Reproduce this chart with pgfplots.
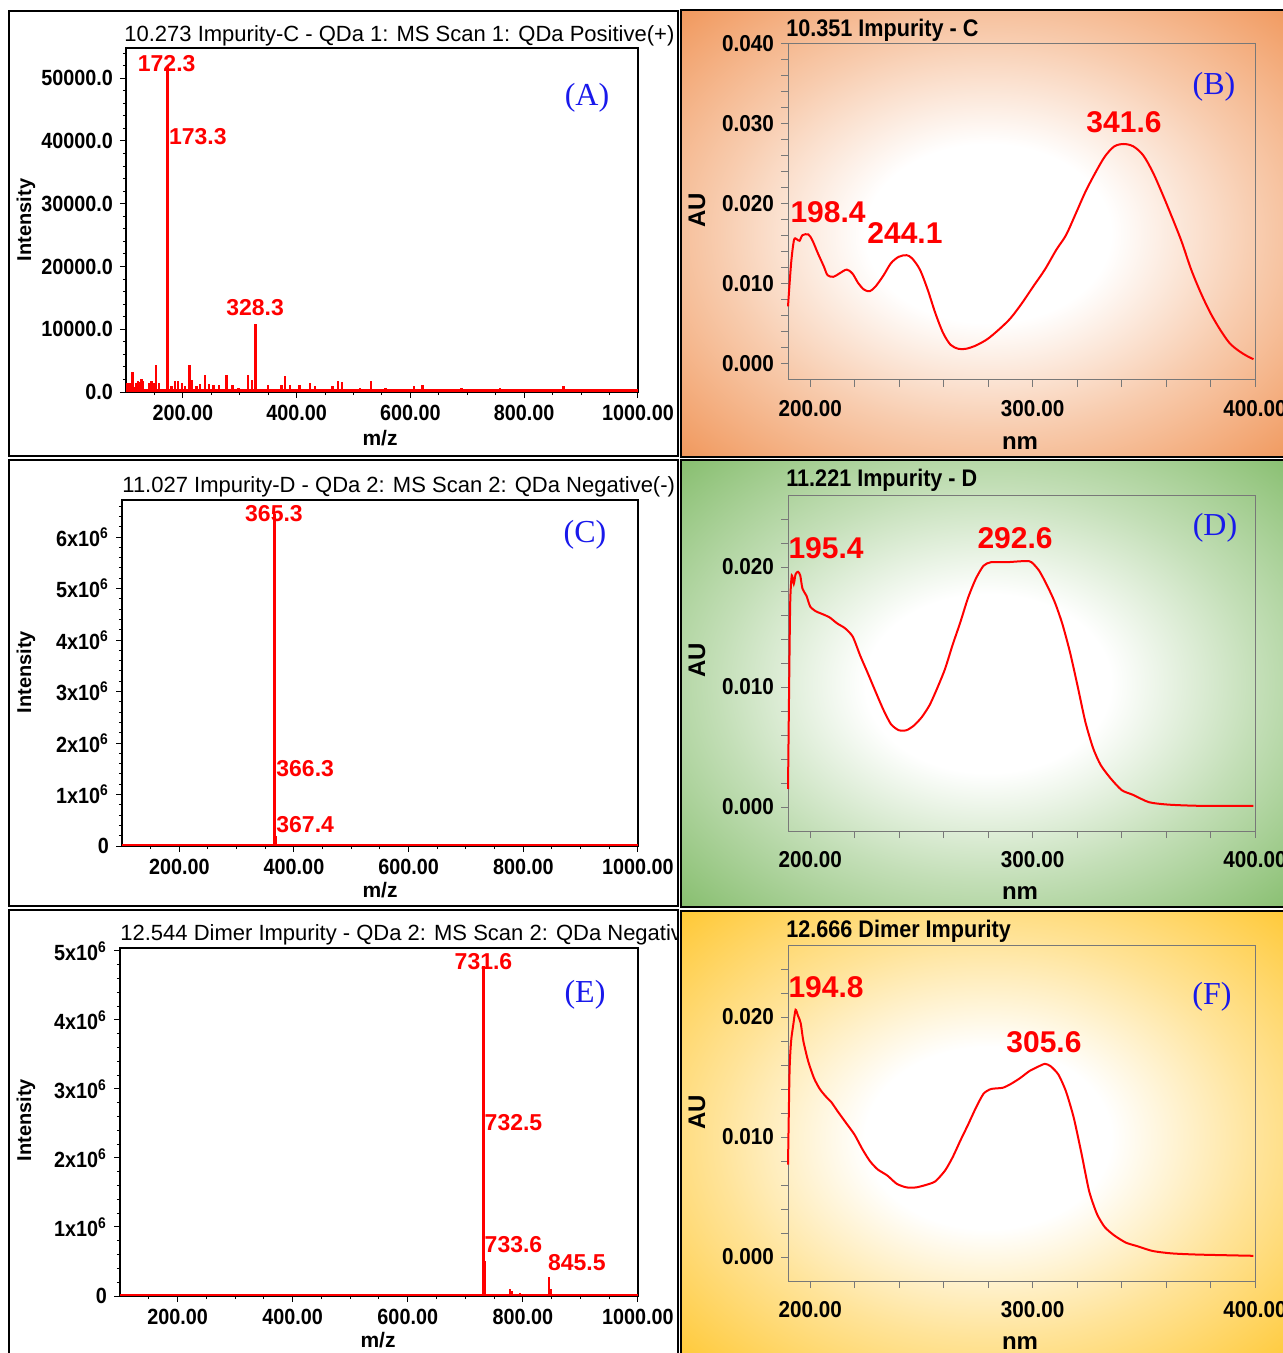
\documentclass[border=0pt]{standalone}
\usepackage{pgfplots}
\pgfplotsset{compat=1.18}
\usepackage{fontspec}
\setmainfont{Liberation Sans}
\newfontfamily\cond[FakeStretch=0.9]{Liberation Sans}
\newfontfamily\serifA{Liberation Serif}
\definecolor{cB}{RGB}{236,120,42}
\definecolor{cD}{RGB}{98,170,66}
\definecolor{cF}{RGB}{255,186,0}
\definecolor{lab}{RGB}{25,25,235}
\definecolor{axg}{RGB}{120,120,120}
\pgfdeclareradialshading{shB}{\pgfpoint{0bp}{0bp}}{color(0bp)=(white); color(10bp)=(white); color(22bp)=(cB!38!white); color(35bp)=(cB!75!white); color(50bp)=(cB)}
\pgfdeclareradialshading{shD}{\pgfpoint{0bp}{0bp}}{color(0bp)=(white); color(10bp)=(white); color(22bp)=(cD!38!white); color(35bp)=(cD!75!white); color(50bp)=(cD)}
\pgfdeclareradialshading{shF}{\pgfpoint{0bp}{0bp}}{color(0bp)=(white); color(10bp)=(white); color(22bp)=(cF!40!white); color(35bp)=(cF!78!white); color(50bp)=(cF)}
\tikzset{
  pl/.style={font=\bfseries\fontsize{11.5}{13}\selectfont, text=red, inner sep=0pt},
  ul/.style={font=\bfseries\fontsize{15}{17}\selectfont, text=red, inner sep=0pt},
}
\pgfplotsset{
  ms/.style={scale only axis, anchor=north west, clip=false,
    xmin=100, xmax=1000, ymin=0,
    axis line style={black, line width=0.6pt},
    tick pos=left, tick align=outside,
    tick style={black, line width=0.5pt},
    major tick length=3pt, minor tick length=1.6pt,
    xtick={200,400,600,800,1000},
    xticklabels={200.00,400.00,600.00,800.00,1000.00},
    minor xtick={150,250,300,350,450,500,550,650,700,750,850,900,950},
    scaled ticks=false,
    ticklabel style={font=\cond\bfseries\fontsize{11}{13}\selectfont},
  },
  uv/.style={scale only axis, anchor=north west, clip=false,
    width=233.5pt, height=168pt,
    xmin=190, xmax=400,
    axis line style={axg, line width=0.5pt},
    tick pos=left, tick align=outside,
    tick style={axg, line width=0.5pt},
    major tick length=3.5pt, minor tick length=3.5pt,
    xtick={200,300,400}, xticklabels={200.00,300.00,400.00},
    minor xtick={220,240,260,280,320,340,360,380},
    scaled ticks=false,
    ticklabel style={font=\cond\bfseries\fontsize{11.5}{13}\selectfont},
    xticklabel style={yshift=-3pt},
  },
  stick/.style={red, ycomb, line width=1.2pt},
}
\begin{document}
\begin{tikzpicture}
\path[use as bounding box] (0pt,0pt) rectangle (641.5pt,-676.5pt);
\clip (0pt,0pt) rectangle (641.5pt,-676.5pt);
\begin{scope}[x=0.5pt,y=-0.5pt]
% backgrounds and frames
\shade[shading=shB] (681,10) rectangle (1295,457);
\shade[shading=shD] (681,460) rectangle (1295,907);
\shade[shading=shF] (681,911) rectangle (1295,1365);
\draw[line width=1.1pt] (681,10) rectangle (1295,457);
\draw[line width=1.1pt] (681,460) rectangle (1295,907);
\draw[line width=1.1pt] (681,911) rectangle (1295,1365);
\draw[line width=1.1pt] (9,11) rectangle (678,456);
\draw[line width=1.1pt] (9,460) rectangle (678,906);
\draw[line width=1.1pt] (9,910) rectangle (678,1365);
\end{scope}

% ================= Panel A =================
\begin{axis}[ms, at={(63pt,-24pt)}, width=256pt, height=172pt, ymax=54800,
  ytick={0,10000,20000,30000,40000,50000},
  yticklabels={0.0,10000.0,20000.0,30000.0,40000.0,50000.0},
  minor ytick={2000,4000,6000,8000,12000,14000,16000,18000,22000,24000,26000,28000,32000,34000,36000,38000,42000,44000,46000,48000,52000,54000}]
\addplot[red, line width=1.3pt] coordinates {(100,260) (1000,260)};
\addplot[stick] coordinates {
(102,1400) (105,1500) (109,1430) (111.6,3180) (114,800) (118,1500) (121,1800) (124,1600) (127,2000) (130,1700)
(140,1500) (145,1800) (149,1400) (153,4240) (158,1430) (180,900) (186,1750) (191,1750) (198,1430) (204,1000)
(211.8,4240) (215,1960) (224,900) (230,1300) (239,2750) (246,1300) (254,1150) (264,1150) (277,2750) (287,1150)
(298,640) (305,530) (314.5,2750) (321,1960) (350,1150) (373,1150) (380,2500) (388,1150) (405,1150) (423,1430)
(432,900) (463,900) (473,1700) (480,1590) (511,640) (531,1700) (537,370) (556,640) (570,370) (606,900)
(621,1150) (632,370) (690,640) (757,640) (869,900) (985,370)};
\addplot[stick, line width=1.4pt] coordinates {(172.3,52000) (173.3,38400) (328.3,10900)};
\node[pl, anchor=center] at (axis cs:171.5,52300) {172.3};
\node[pl, anchor=west] at (axis cs:175,40760) {173.3};
\node[pl, anchor=center] at (axis cs:327,13400) {328.3};
\end{axis}

% ================= Panel C =================
\begin{axis}[ms, at={(61pt,-250pt)}, width=258pt, height=173pt, ymax=6720000,
  ytick={0,1000000,2000000,3000000,4000000,5000000,6000000},
  yticklabels={0,{1x10\textsuperscript{6}},{2x10\textsuperscript{6}},{3x10\textsuperscript{6}},{4x10\textsuperscript{6}},{5x10\textsuperscript{6}},{6x10\textsuperscript{6}}},
  minor ytick={200000,400000,600000,800000,1200000,1400000,1600000,1800000,2200000,2400000,2600000,2800000,3200000,3400000,3600000,3800000,4200000,4400000,4600000,4800000,5200000,5400000,5600000,5800000,6200000,6400000,6600000}]
\addplot[red, line width=1.1pt] coordinates {(100,15000) (1000,15000)};
\addplot[stick] coordinates {(107,40000) (480,40000) (838,40000)};
\addplot[stick, line width=1.4pt] coordinates {(365.3,6440000) (366.3,1300000) (367.4,200000)};
\node[pl, anchor=center] at (axis cs:365.1,6450000) {365.3};
\node[pl, anchor=west] at (axis cs:368.6,1510000) {366.3};
\node[pl, anchor=west] at (axis cs:368.6,410000) {367.4};
\end{axis}

% ================= Panel E =================
\begin{axis}[ms, at={(60pt,-474pt)}, width=259pt, height=174pt, ymax=5040000,
  ytick={0,1000000,2000000,3000000,4000000,5000000},
  yticklabels={0,{1x10\textsuperscript{6}},{2x10\textsuperscript{6}},{3x10\textsuperscript{6}},{4x10\textsuperscript{6}},{5x10\textsuperscript{6}}},
  minor ytick={200000,400000,600000,800000,1200000,1400000,1600000,1800000,2200000,2400000,2600000,2800000,3200000,3400000,3600000,3800000,4200000,4400000,4600000,4800000}]
\addplot[red, line width=1.1pt] coordinates {(100,15000) (1000,15000)};
\addplot[stick] coordinates {(778,100000) (781,70000) (795,40000) (845.5,270000) (848,100000)};
\addplot[stick, line width=1.4pt] coordinates {(731.6,4780000) (732.5,2400000) (733.6,510000)};
\node[pl, anchor=center] at (axis cs:731.6,4840000) {731.6};
\node[pl, anchor=west] at (axis cs:733,2510000) {732.5};
\node[pl, anchor=west] at (axis cs:733,740000) {733.6};
\node[pl, anchor=west] at (axis cs:843,490000) {845.5};
\end{axis}

% ================= Panel B =================
\begin{axis}[uv, at={(394pt,-22pt)}, ymin=-0.002, ymax=0.040,
  ytick={0,0.01,0.02,0.03,0.04}, yticklabels={0.000,0.010,0.020,0.030,0.040},
  minor ytick={0.002,0.004,0.006,0.008,0.012,0.014,0.016,0.018,0.022,0.024,0.026,0.028,0.032,0.034,0.036,0.038}]
\addplot[red, line width=1pt, smooth] coordinates {
(190,0.0072) (191.4,0.0126) (192.7,0.0155) (193.9,0.0156) (195.2,0.0154) (196.5,0.0161) (199.1,0.0162) (200.9,0.0155)
(203.5,0.0138) (206.1,0.0122) (207.8,0.0111) (210.4,0.0109) (213,0.0113) (216.4,0.0118) (219,0.0113) (221.6,0.0101)
(224.2,0.0093) (226.8,0.0091) (229.4,0.0097) (233,0.0111) (236.3,0.0126) (239.8,0.0134) (243.3,0.0136) (245.8,0.0132)
(249.3,0.0118) (252.8,0.0093) (256.2,0.0064) (259.7,0.0039) (263.1,0.0024) (266.6,0.0019) (270,0.0019) (274.4,0.0023)
(279.6,0.0031) (284.8,0.0043) (290,0.0057) (295.2,0.0076) (300.3,0.0097) (305.5,0.0118) (310.7,0.0143) (315,0.0161)
(319.4,0.0188) (323.7,0.0215) (328,0.0238) (332.4,0.0259) (336.7,0.0272) (341,0.0275) (345.3,0.0272) (349.7,0.0261)
(354,0.0240) (358.3,0.0213) (362.6,0.0184) (367,0.0153) (371.3,0.0118) (375.6,0.0089) (379.9,0.0064) (384.3,0.0043)
(388.6,0.0026) (392.9,0.0016) (396.4,0.0010) (399.3,0.0006)};
\node[ul] at (axis cs:208,0.0190) {198.4};
\node[ul] at (axis cs:242.6,0.0164) {244.1};
\node[ul] at (axis cs:341.1,0.03025) {341.6};
\end{axis}

% ================= Panel D =================
\begin{axis}[uv, at={(394pt,-247.5pt)}, ymin=-0.002, ymax=0.026,
  ytick={0,0.01,0.02}, yticklabels={0.000,0.010,0.020},
  minor ytick={0.002,0.004,0.006,0.008,0.012,0.014,0.016,0.018,0.022,0.024}]
\addplot[red, line width=1pt, smooth, tension=0.4] coordinates {
(190,0.0015) (190.5,0.0099) (191,0.0171) (191.7,0.0193) (192.6,0.0186) (193.4,0.0194) (194.5,0.0196) (195.5,0.0193)
(196.5,0.0182) (198.3,0.0176) (200,0.0167) (202.6,0.0163) (205.2,0.0161) (208.7,0.0158) (212.1,0.0153) (215.6,0.0149)
(219.1,0.0142) (222.5,0.0126) (226,0.0111) (229.4,0.0096) (232.9,0.0081) (236.3,0.0069) (239.8,0.0064) (243.3,0.0064)
(246.7,0.0068) (250.2,0.0075) (253.7,0.0085) (257.1,0.0099) (260.6,0.0115) (264,0.0135) (267.5,0.0154) (270.9,0.0174)
(274.4,0.0190) (277.9,0.0201) (281.3,0.0204) (288.2,0.0204) (296.9,0.0205) (299.5,0.0204) (302.9,0.0197) (306.4,0.0185)
(309.9,0.0171) (313.3,0.0153) (316.8,0.0129) (320.2,0.0101) (323.7,0.0071) (327.2,0.0049) (330.6,0.0035) (335,0.0024)
(340.1,0.0014) (345.3,0.0010) (352.3,0.0004) (360.9,0.0002) (374.7,0.0001) (399.3,0.0001)};
\node[ul] at (axis cs:207.1,0.0216) {195.4};
\node[ul] at (axis cs:292.1,0.0224) {292.6};
\end{axis}

% ================= Panel F =================
\begin{axis}[uv, at={(394pt,-472.5pt)}, ymin=-0.002, ymax=0.026,
  ytick={0,0.01,0.02}, yticklabels={0.000,0.010,0.020},
  minor ytick={0.002,0.004,0.006,0.008,0.012,0.014,0.016,0.018,0.022,0.024}]
\addplot[red, line width=1pt, smooth, tension=0.4] coordinates {
(190,0.0077) (190.7,0.0155) (191.4,0.0180) (192.4,0.0194) (193.4,0.0206) (194.5,0.0201) (195.7,0.0195) (196.9,0.0180)
(199.1,0.0163) (201.7,0.0149) (204.3,0.0140) (206.9,0.0134) (209.5,0.0129) (212.1,0.0122) (215.6,0.0113) (219.9,0.0102)
(223.4,0.0090) (226.8,0.0080) (230.3,0.0073) (234.6,0.0068) (238.9,0.0061) (243.3,0.0058) (247.6,0.0058) (251.9,0.0060)
(256.2,0.0063) (260.6,0.0072) (264,0.0083) (267.5,0.0097) (270.9,0.0110) (274.4,0.0124) (277.9,0.0136) (281.3,0.0140)
(286.5,0.0141) (290,0.0144) (294.3,0.0149) (298.6,0.0155) (302.9,0.0159) (305.5,0.0161) (308.1,0.0159) (311.6,0.0152)
(315,0.0138) (318.5,0.0116) (322,0.0086) (325.4,0.0055) (328.9,0.0036) (332.4,0.0025) (336.7,0.0018) (341.9,0.0012)
(347.1,0.0009) (354,0.0005) (362.6,0.0003) (374.7,0.0002) (399.3,0.0001)};
\node[ul] at (axis cs:207.1,0.0225) {194.8};
\node[ul] at (axis cs:305.1,0.0179) {305.6};
\end{axis}

% ================= titles and labels =================
\begin{scope}[x=0.5pt,y=-0.5pt]
\begin{scope}
\clip (0,0) rectangle (677,1353);
\node[anchor=west, inner sep=0pt, font=\fontsize{11}{13}\selectfont] at (124,36) {10.273 Impurity-C - QDa 1: MS Scan 1: QDa Positive(+) Scan};
\node[anchor=west, inner sep=0pt, font=\fontsize{11}{13}\selectfont] at (122,487) {11.027 Impurity-D - QDa 2: MS Scan 2: QDa Negative(-)};
\node[anchor=west, inner sep=0pt, font=\fontsize{11}{13}\selectfont] at (120,935) {12.544 Dimer Impurity - QDa 2: MS Scan 2: QDa Negative(-)};
\end{scope}
\node[anchor=west, inner sep=0pt, font=\cond\bfseries\fontsize{12}{14}\selectfont] at (786,30) {10.351 Impurity - C};
\node[anchor=west, inner sep=0pt, font=\cond\bfseries\fontsize{12}{14}\selectfont] at (786,480) {11.221 Impurity - D};
\node[anchor=west, inner sep=0pt, font=\cond\bfseries\fontsize{12}{14}\selectfont] at (786,931) {12.666 Dimer Impurity};

\foreach \yy in {220,672,1120} {\node[rotate=90, font=\bfseries\fontsize{10}{12}\selectfont] at (26,\yy) {Intensity};}
\node[font=\bfseries\fontsize{10.5}{12}\selectfont] at (380,438) {m/z};
\node[font=\bfseries\fontsize{10.5}{12}\selectfont] at (380,890) {m/z};
\node[font=\bfseries\fontsize{10.5}{12}\selectfont] at (378,1340) {m/z};
\foreach \yy in {210,660,1112} {\node[rotate=90, font=\bfseries\fontsize{12}{14}\selectfont] at (697,\yy) {AU};}
\node[font=\bfseries\fontsize{12}{14}\selectfont] at (1020,443) {nm};
\node[font=\bfseries\fontsize{12}{14}\selectfont] at (1020,893) {nm};
\node[font=\bfseries\fontsize{12}{14}\selectfont] at (1020,1343) {nm};

\node[text=lab, font=\serifA\fontsize{16}{18}\selectfont] at (587,98) {(A)};
\node[text=lab, font=\serifA\fontsize{16}{18}\selectfont] at (1214,87) {(B)};
\node[text=lab, font=\serifA\fontsize{16}{18}\selectfont] at (585,535) {(C)};
\node[text=lab, font=\serifA\fontsize{16}{18}\selectfont] at (1215,528) {(D)};
\node[text=lab, font=\serifA\fontsize{16}{18}\selectfont] at (585,995) {(E)};
\node[text=lab, font=\serifA\fontsize{16}{18}\selectfont] at (1212,997) {(F)};
\end{scope}
\end{tikzpicture}
\end{document}
